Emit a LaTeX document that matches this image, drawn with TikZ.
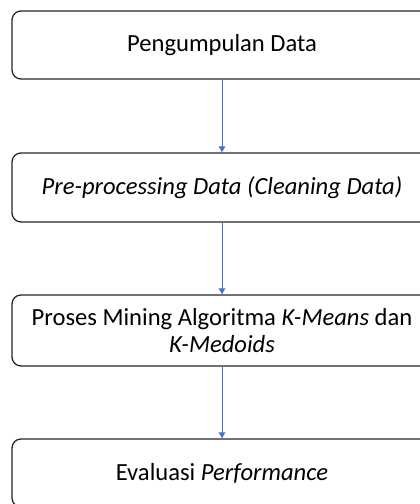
\documentclass[tikz,border=0pt]{standalone}
\usepackage{fontspec}
\setmainfont{Carlito}
\usetikzlibrary{arrows.meta}
\definecolor{arrowblue}{HTML}{4472C4}
\tikzset{
  stagebox/.style={draw=black!85, line width=1.3pt, rounded corners=9pt, minimum width=420pt, align=center, inner sep=0pt, font=\fontsize{24.6}{27}\selectfont},
  flow/.style={draw=arrowblue, line width=0.9pt, -{Triangle[width=6.5pt,length=6pt]}}
}
\begin{document}
\begin{tikzpicture}[x=1pt,y=1pt]
\useasboundingbox (0,0) rectangle (420,504);
\clip (0,0) rectangle (420,504);
\node[stagebox, minimum height=68pt] (b1) at (222,459) {Pengumpulan Data};
\node[stagebox, minimum height=69pt] (b2) at (222,316.5) {\itshape Pre-processing Data (Cleaning Data)};
\node[stagebox, minimum height=71pt] (b3) at (222,173.5) {Proses Mining Algoritma \textit{K-Means} dan\\ \textit{K-Medoids}};
\node[stagebox, minimum height=68pt] (b4) at (222,31) {Evaluasi \textit{Performance}};
\draw[flow] (b1) -- (b2);
\draw[flow] (b2) -- (b3);
\draw[flow] (b3) -- (b4);
\end{tikzpicture}
\end{document}
